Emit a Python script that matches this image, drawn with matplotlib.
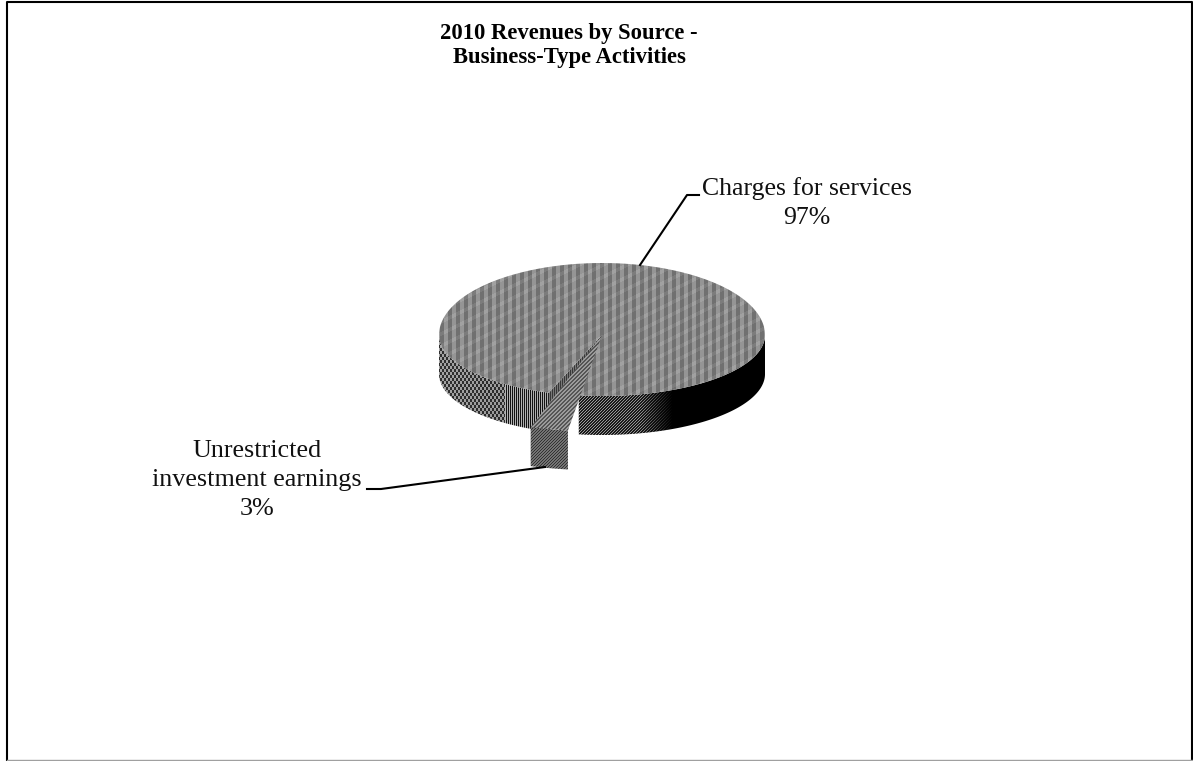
import numpy as np
import matplotlib
matplotlib.use("Agg")
import matplotlib.pyplot as plt
from matplotlib.patches import Polygon

W, H = 1193, 761

sources = ["Charges for services", "Unrestricted\ninvestment earnings"]
shares = [97, 3]

plt.rcParams['font.family'] = ['Liberation Serif', 'DejaVu Serif']

# pie geometry in pixels, the front half is squashed a bit for perspective
cx, cy = 602, 335
rx, ry_back, ry_front = 163, 72, 61
depth = 39
start = 251.0
# the pulled slice sits closer to the viewer so it draws larger
pull_scale, pull_x, pull_y = 1.25, -5, 20

yy, xx = np.mgrid[0:H, 0:W]


def top_texture():
    # 4px vertical bars with a faint diagonal running through them
    img = np.where((xx // 4) % 2 == 0, 118.0, 155.0)
    img += 12 * (((xx + 2 * yy) // 8) % 3 == 0) - 6
    return img


def side_texture():
    # dithered rim: mottled on the left, bars in the middle, black on the right
    level = np.interp(xx, [440, 500, 560, 640, 655, 672], [105, 100, 95, 85, 45, 0])
    bars = (xx % 2) * 2 - 1.0
    diag = (((xx + yy) % 3 == 0) * 2 - 1.0)
    mottled = (((xx // 2 + yy // 3) % 2) * 2 - 1.0)
    pat = np.where(xx < 505, mottled * 0.55, np.where(xx < 575, bars * 0.8, diag * 0.7))
    return np.clip(level + pat * level, 0, 255)


def wedge_top_texture():
    return np.where((xx + yy) % 4 < 2, 85.0, 155.0)


def wedge_side_texture():
    return np.where((xx + yy) % 3 == 0, 50.0, 115.0)


def cut_texture():
    return np.where(xx % 2 == 0, 55.0, 120.0)


def ell(theta):
    t = np.radians(theta)
    s = np.sin(t)
    return cx + rx * np.cos(t), cy - np.where(s > 0, ry_back, ry_front) * s


def fill(ax, pts, img, zo):
    im = ax.imshow(img, cmap="gray", vmin=0, vmax=255, interpolation="nearest",
                   extent=(0, W, H, 0), zorder=zo)
    patch = Polygon(pts, closed=True, transform=ax.transData, fc="none", ec="none")
    ax.add_patch(patch)
    im.set_clip_path(patch)


def band(x, y):
    return np.r_[np.c_[x, y], np.c_[x[::-1], y[::-1] + depth]]


fig = plt.figure(figsize=(W / 100, H / 100), dpi=100)
ax = fig.add_axes([0, 0, 1, 1])
ax.set_xlim(0, W)
ax.set_ylim(H, 0)
ax.axis("off")

# chart frame
ax.plot([6.5, 6.5, 1191.5, 1191.5], [H, 1.5, 1.5, H], color="black", lw=1.5, zorder=1)
ax.plot([6.5, 1191.5], [760, 760], color="#a0a0a0", lw=1, zorder=1)

spans = np.array(shares) / sum(shares) * 360
small_a, small_b = start, start + spans[1]
main_b = small_b + spans[0]

# rim of the big slice, either side of the gap
x, y = ell(np.linspace(small_b, 360, 150))
fill(ax, band(x, y), side_texture(), 2)
x, y = ell(np.linspace(180, small_a, 120))
fill(ax, band(x, y), side_texture(), 3)

# cut face of the big slice seen through the gap
gx, gy = ell(small_a)
fill(ax, [(cx, cy), (gx, gy), (gx, gy + depth), (cx, cy + depth)], cut_texture(), 4)

# top of the big slice
x, y = ell(np.linspace(small_b, main_b, 400))
fill(ax, np.r_[[(cx, cy)], np.c_[x, y]], top_texture(), 5)

# small slice pulled out of the pie
x, y = ell(np.linspace(small_a, small_b, 30))
x = cx + (x - cx) * pull_scale + pull_x
y = cy + (y - cy) * pull_scale + pull_y
fill(ax, band(x, y), wedge_side_texture(), 6)
fill(ax, np.r_[[(cx, cy)], np.c_[x, y]], wedge_top_texture(), 7)

# leader lines
ax.plot([640, 687, 699], [265, 195, 195], color="black", lw=1.5, zorder=20)
ax.plot([367, 381, 545], [489, 489, 467], color="black", lw=1.5, zorder=20)

# title and slice labels
ax.text(569, 33, "2010 Revenues by Source -", fontsize=16.3, fontweight="bold", ha="center", va="center")
ax.text(569, 57, "Business-Type Activities", fontsize=16.3, fontweight="bold", ha="center", va="center")
ax.text(807, 203, f"{sources[0]}\n{shares[0]}%", fontsize=18.5, ha="center", va="center",
        linespacing=1.42, color="#111111")
ax.text(257, 480, f"{sources[1]}\n{shares[1]}%", fontsize=18.8, ha="center", va="center",
        linespacing=1.42, color="#111111")

fig.savefig("out.png", dpi=100)
